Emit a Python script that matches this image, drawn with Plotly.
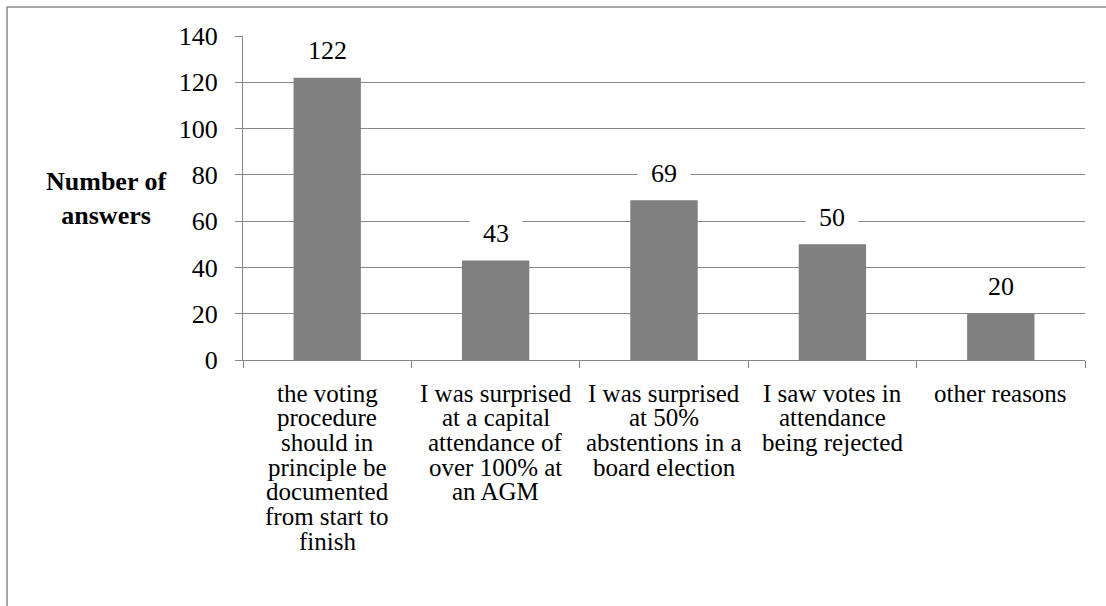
import plotly.graph_objects as go

# Survey results: reasons given, number of answers per reason
categories = [
    "the voting procedure should in principle be documented from start to finish",
    "I was surprised at a capital attendance of over 100% at an AGM",
    "I was surprised at 50% abstentions in a board election",
    "I saw votes in attendance being rejected",
    "other reasons",
]
# Wrapped lines of each category label as they are laid out under the axis
category_lines = [
    ["the voting", "procedure", "should in", "principle be", "documented", "from start to", "finish"],
    ["I was surprised", "at a capital", "attendance of", "over 100% at", "an AGM"],
    ["I was surprised", "at 50%", "abstentions in a", "board election"],
    ["I saw votes in", "attendance", "being rejected"],
    ["other reasons"],
]
answers = [122, 43, 69, 50, 20]
y_ticks = [0, 20, 40, 60, 80, 100, 120, 140]

FONT = "Liberation Serif"
GREY = "#868686"
BAR = "#808080"

W, H = 1106, 606
L, R, T, B = 243, 21, 36, 245.5
plot_w = W - L - R
plot_h = H - T - B

fig = go.Figure(
    go.Bar(
        x=categories,
        y=answers,
        marker=dict(color=BAR, line=dict(width=0)),
        hoverinfo="x+y",
    )
)

# value labels above each bar, on a white box that breaks the gridlines
for cat, v in zip(categories, answers):
    txt = str(v)
    fig.add_annotation(
        x=cat, y=v, xref="x", yref="y",
        text=txt, showarrow=False,
        yanchor="middle", xanchor="center", yshift=27,
        bgcolor="white", width=len(txt) * 13 + 26, borderpad=0,
        font=dict(family=FONT, size=26, color="black"),
    )

# category labels, one annotation per wrapped line for tight line spacing
LINE = 24.7
for cat, lines in zip(categories, category_lines):
    for i, ln in enumerate(lines):
        fig.add_annotation(
            x=cat, y=0, xref="x", yref="paper",
            text=ln, showarrow=False,
            yanchor="middle", xanchor="center",
            yshift=-(33 + i * LINE),
            font=dict(family=FONT, size=25, color="black"),
        )

# horizontal axis title on the left
fig.add_annotation(
    x=(106 - L) / plot_w, y=0.5, xref="paper", yref="paper",
    text="<b>Number of<br>answers</b>", showarrow=False,
    xanchor="center", yanchor="middle", align="center",
    font=dict(family=FONT, size=26, color="black"),
)

# frame around the chart area
fig.add_shape(
    type="rect", xref="paper", yref="paper",
    x0=(7 - L) / plot_w, x1=(1115 - L) / plot_w,
    y0=-(630 - T - plot_h) / plot_h, y1=1 + (T - 7) / plot_h,
    line=dict(color="#8c8c8c", width=1.5), fillcolor="rgba(0,0,0,0)",
    layer="below",
)

fig.update_layout(
    width=W, height=H,
    margin=dict(l=L, r=R, t=T, b=B, autoexpand=False),
    paper_bgcolor="white", plot_bgcolor="white",
    bargap=0.6,
    showlegend=False,
    font=dict(family=FONT, color="black"),
)

fig.update_xaxes(
    type="category",
    showticklabels=False,
    showline=True, linecolor=GREY, linewidth=1.3,
    ticks="outside", tickson="boundaries", ticklen=7, tickcolor=GREY, tickwidth=1.3,
    showgrid=False, zeroline=False,
)
fig.update_yaxes(
    range=[0, 140],
    tickvals=y_ticks,
    ticktext=[str(t) for t in y_ticks],
    showline=True, linecolor=GREY, linewidth=1.3,
    ticks="outside", ticklen=7, tickcolor=GREY, tickwidth=1.3,
    ticklabelstandoff=12,
    showgrid=True, gridcolor=GREY, gridwidth=1.3,
    zeroline=False,
    tickfont=dict(family=FONT, size=26, color="black"),
)

# keep the serif face on every SVG text node, including ones drawn later
serif_js = """
var fam = "'Liberation Serif', 'Times New Roman', Tinos, serif";
function applySerif() {
  document.querySelectorAll('svg text, svg tspan').forEach(function (t) {
    t.setAttribute('font-family', fam);
    t.style.setProperty('font-family', fam, 'important');
  });
}
applySerif();
setTimeout(applySerif, 50);
setTimeout(applySerif, 300);
var gd = document.getElementById('{plot_id}');
if (gd && gd.on) { gd.on('plotly_afterplot', applySerif); }
"""

fig.write_html("out.html", post_script=serif_js)
